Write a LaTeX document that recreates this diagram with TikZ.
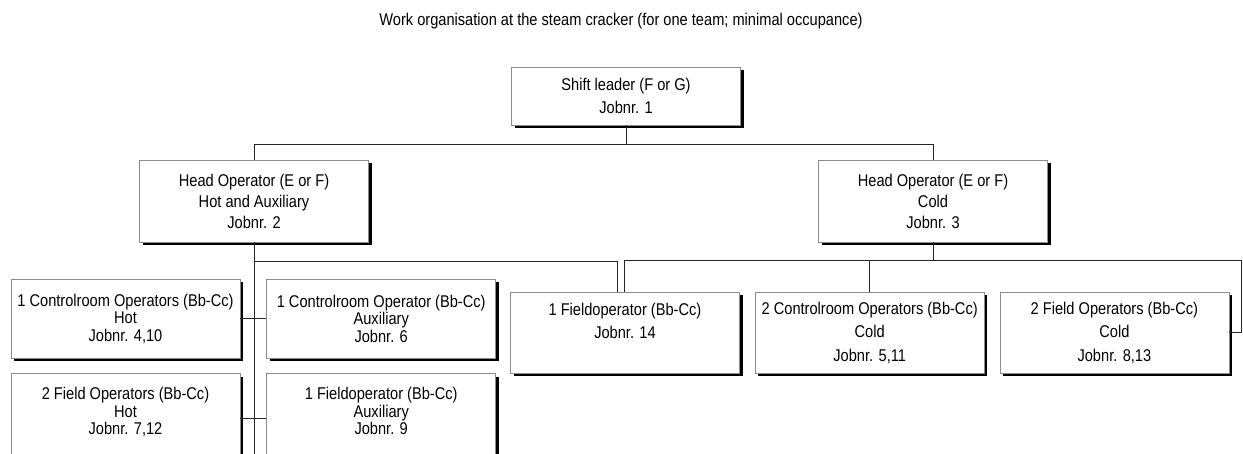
\documentclass[tikz,border=0pt]{standalone}
\usepackage{fontspec}
\setmainfont{Liberation Sans}[FakeStretch=0.86]
\usetikzlibrary{positioning,shadows,calc}

\begin{document}
\begin{tikzpicture}[x=1pt,y=-1pt,
    post/.style={draw=black!45, line width=0.7pt, fill=white, align=center, inner sep=0pt,
        minimum width=229pt, drop shadow={shadow xshift=3pt, shadow yshift=-3pt, fill=black, opacity=1}},
    link/.style={draw=black!85, line width=0.8pt},
    node distance=15pt]
    \useasboundingbox (0,0) rectangle (1243,453);
    \clip (0,0) rectangle (1243,453);

    \node[font=\fontsize{17}{20}\selectfont] (title) at (621,21) {Work organisation at the steam cracker (for one team; minimal occupance)};

    % top of the team
    \node[post, minimum height=58pt, font=\fontsize{17}{23}\selectfont] (shift) at (626,96) {Shift leader (F or G)\\Jobnr. 1};
    \node[post, minimum height=82pt, font=\fontsize{17}{21}\selectfont] (head2) at (254,201) {Head Operator (E or F)\\Hot and Auxiliary\\Jobnr. 2};
    \node[post, minimum height=82pt, font=\fontsize{17}{21}\selectfont] (head3) at (933,201) {Head Operator (E or F)\\Cold\\Jobnr. 3};

    % hot and auxiliary side
    \node[post, minimum height=79pt, font=\fontsize{17}{17.5}\selectfont] (hot1) at (125.5,318.5) {1 Controlroom Operators (Bb-Cc)\\Hot\\Jobnr. 4,10};
    \node[post, minimum height=79pt, font=\fontsize{17}{17.5}\selectfont] (aux1) [right=26pt of hot1] {1 Controlroom Operator (Bb-Cc)\\Auxiliary\\Jobnr. 6};
    \node[post, minimum height=90pt, font=\fontsize{17}{17.5}\selectfont, text depth=15pt] (hot2) [below=of hot1] {2 Field Operators (Bb-Cc)\\Hot\\Jobnr. 7,12};
    \node[post, minimum height=90pt, font=\fontsize{17}{17.5}\selectfont, text depth=15pt] (aux2) [right=26pt of hot2] {1 Fieldoperator (Bb-Cc)\\Auxiliary\\Jobnr. 9};

    % cold side
    \node[post, minimum height=81pt, font=\fontsize{17}{23.5}\selectfont] (fop14) at (625,332.5) {1 Fieldoperator (Bb-Cc)\\Jobnr. 14\\\mbox{}};
    \node[post, minimum height=81pt, font=\fontsize{17}{23.5}\selectfont] (cold1) [right=of fop14] {2 Controlroom Operators (Bb-Cc)\\Cold\\Jobnr. 5,11};
    \node[post, minimum height=81pt, font=\fontsize{17}{23.5}\selectfont] (cold2) [right=of cold1] {2 Field Operators (Bb-Cc)\\Cold\\Jobnr. 8,13};

    \draw[link] (shift.south) -- ++(0,19) -| (head2.north);
    \draw[link] (shift.south) -- ++(0,19) -| (head3.north);

    \draw[link] (head2.south) -- (head2.south |- hot2.south);
    \draw[link] (head2.south) ++(0,19) -| ([xshift=-8pt]fop14.north);
    \draw[link] (hot1.east) -- (aux1.west);
    \draw[link] (hot2.east) -- (aux2.west);

    \coordinate (rbus) at ($(head3.south)+(0,18)$);
    \draw[link] (head3.south) -- (rbus) -| ([xshift=-1pt]fop14.north);
    \draw[link] (rbus) -| (cold1.north);
    \draw[link] (rbus) -| ([xshift=12pt]cold2.east) -- (cold2.east);
\end{tikzpicture}
\end{document}
